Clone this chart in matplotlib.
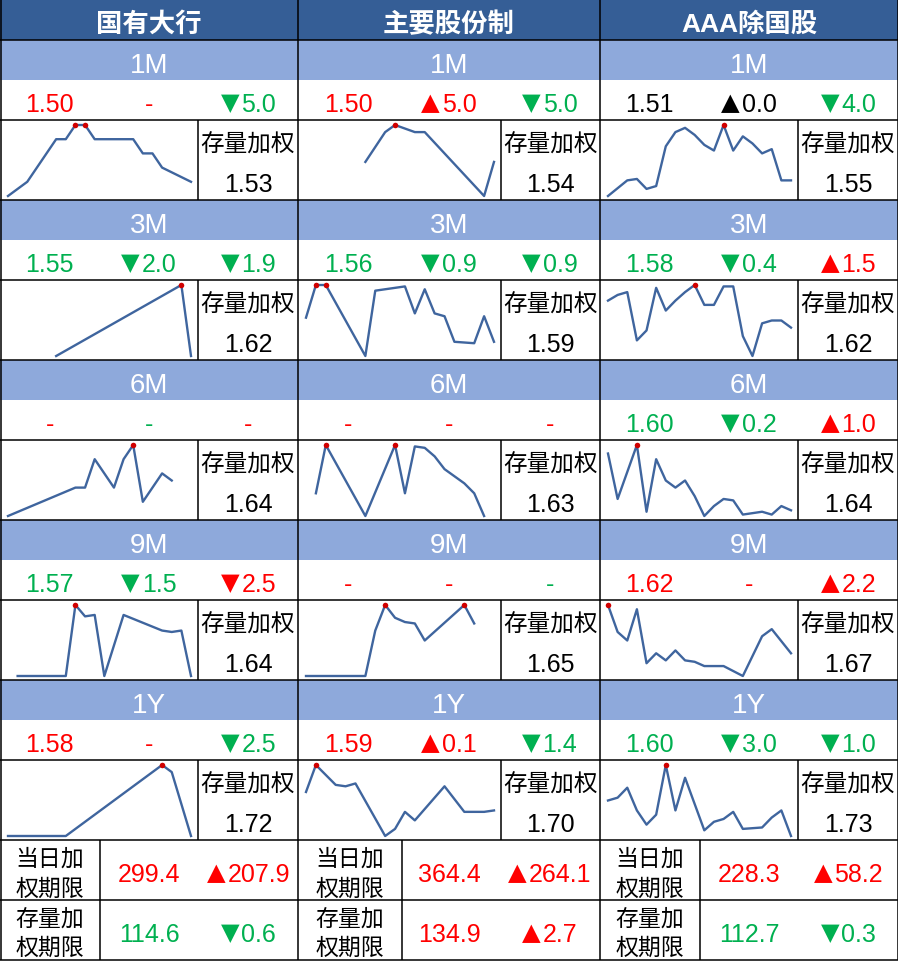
import matplotlib
matplotlib.use("Agg")
import matplotlib.pyplot as plt
from matplotlib.patches import Rectangle

plt.rcParams["font.family"] = ["Liberation Sans", "Noto Sans CJK SC", "DejaVu Sans"]

W, H = 898, 961

R = "#FF0000"
G = "#00B050"
K = "#000000"

GROUPS = ["国有大行", "主要股份制", "AAA除国股"]
TENORS = ["1M", "3M", "6M", "9M", "1Y"]

# latest rate, change vs previous day, change vs last week (3 per group)
quote_1m = ["1.50", "-", "▼5.0", "1.50", "▲5.0", "▼5.0", "1.51", "▲0.0", "▼4.0"]
quote_3m = ["1.55", "▼2.0", "▼1.9", "1.56", "▼0.9", "▼0.9", "1.58", "▼0.4", "▲1.5"]
quote_6m = ["-", "-", "-", "-", "-", "-", "1.60", "▼0.2", "▲1.0"]
quote_9m = ["1.57", "▼1.5", "▼2.5", "-", "-", "-", "1.62", "-", "▲2.2"]
quote_1y = ["1.58", "-", "▼2.5", "1.59", "▲0.1", "▼1.4", "1.60", "▼3.0", "▼1.0"]

color_1m = [R, R, G, R, R, G, K, K, G]
color_3m = [G, G, G, G, G, G, G, G, R]
color_6m = [R, G, R, R, R, R, G, G, R]
color_9m = [G, G, R, R, R, G, R, R, R]
color_1y = [R, R, G, R, R, G, G, G, G]

stock_1m = [1.53, 1.54, 1.55]
stock_3m = [1.62, 1.59, 1.62]
stock_6m = [1.64, 1.63, 1.64]
stock_9m = [1.64, 1.65, 1.67]
stock_1y = [1.72, 1.70, 1.73]

# recent issuance rates, one slot per day (None = no issue)
N = None
spark_1m = [
    [1.480, N, 1.490, N, N, 1.520, 1.520, 1.530, 1.530, 1.520, N, N, N, 1.520, 1.510, 1.510, 1.500, N, N, 1.490],
    [N, N, N, N, N, N, 1.504, N, 1.525, 1.530, N, 1.525, 1.525, N, N, N, N, N, 1.480, 1.504],
    [1.500, N, 1.511, 1.512, 1.505, 1.507, 1.535, 1.545, 1.548, 1.543, 1.536, 1.532, 1.550, 1.532, 1.542, 1.537, 1.530, 1.533, 1.511, 1.511],
]
spark_3m = [
    [N, N, N, N, N, 1.550, N, N, N, N, N, N, N, N, N, N, N, N, 1.600, 1.550],
    [1.577, 1.600, 1.600, N, N, N, 1.550, 1.596, N, N, 1.599, 1.580, 1.597, 1.580, 1.578, 1.560, N, 1.559, 1.578, 1.560],
    [1.599, 1.603, 1.605, 1.571, 1.578, 1.608, 1.592, 1.599, 1.605, 1.610, 1.596, 1.596, 1.609, 1.609, 1.574, 1.560, 1.583, 1.585, 1.585, 1.580],
]
spark_6m = [
    [1.580, N, N, N, N, N, N, 1.600, 1.600, 1.620, N, 1.600, 1.620, 1.630, 1.590, N, 1.610, 1.605, N, N],
    [N, 1.596, 1.630, N, N, N, 1.580, N, N, 1.630, 1.596, 1.629, 1.628, 1.622, 1.613, 1.608, 1.603, 1.596, 1.580, N],
    [1.644, 1.612, 1.631, 1.650, 1.603, 1.640, 1.625, 1.620, 1.625, 1.614, 1.600, 1.607, 1.612, 1.611, 1.601, 1.602, 1.603, 1.601, 1.607, 1.604],
]
spark_9m = [
    [N, 1.580, N, N, N, N, 1.580, 1.630, 1.622, 1.623, 1.580, N, 1.623, N, N, N, 1.612, 1.611, 1.612, 1.580],
    [1.600, N, N, N, N, N, 1.600, 1.632, 1.650, 1.641, 1.638, 1.637, 1.625, N, N, N, 1.650, 1.637, N, N],
    [1.650, 1.631, 1.625, 1.647, 1.609, 1.616, 1.611, 1.618, 1.611, 1.610, 1.607, 1.607, 1.607, N, 1.600, N, 1.628, 1.633, N, 1.616],
]
spark_1y = [
    [1.620, N, N, N, N, N, 1.620, N, N, N, N, N, N, N, N, N, 1.670, 1.665, N, 1.620],
    [1.651, 1.670, 1.663, 1.656, 1.655, 1.657, N, N, 1.620, 1.625, 1.637, 1.631, N, N, 1.655, N, 1.637, N, 1.637, 1.638],
    [1.675, 1.677, 1.684, 1.668, 1.658, 1.665, 1.700, 1.668, 1.691, N, 1.654, 1.660, 1.662, 1.667, 1.655, N, 1.656, 1.663, 1.668, 1.650],
]

daily_term = ["299.4", "364.4", "228.3"]
daily_chg = ["▲207.9", "▲264.1", "▲58.2"]
daily_color = [R, R, R]
stock_term = ["114.6", "134.9", "112.7"]
stock_chg = ["▼0.6", "▲2.7", "▼0.3"]
stock_color = [G, R, G]

quotes = [quote_1m, quote_3m, quote_6m, quote_9m, quote_1y]
colors = [color_1m, color_3m, color_6m, color_9m, color_1y]
stocks = [stock_1m, stock_3m, stock_6m, stock_9m, stock_1y]
sparks = [spark_1m, spark_3m, spark_6m, spark_9m, spark_1y]

# layout (pixels)
col_left = [0, 298, 600]
col_right = [298, 600, 898]
spark_split = [198, 501, 798]
label_split = [100, 402, 700]

HEAD_BG = "#355E96"
BAND_BG = "#8EA9DB"
LINE_C = "#3F659E"
DOT_C = "#D00000"

fig = plt.figure(figsize=(W / 100, H / 100), dpi=100)
ax = fig.add_axes([0, 0, 1, 1])
ax.set_xlim(0, W)
ax.set_ylim(H, 0)
ax.axis("off")
renderer = fig.canvas.get_renderer()


def hline(y, x0=0, x1=W):
    ax.plot([x0, x1], [y, y], color="black", lw=1.1, solid_capstyle="butt", zorder=5)


def vline(x, y0, y1):
    ax.plot([x, x], [y0, y1], color="black", lw=1.1, solid_capstyle="butt", zorder=5)


def value_text(x, y_base, s, color):
    # arrows drawn in DejaVu so they come out as big as in the source table
    if s[0] in "▲▼":
        t1 = ax.text(0, y_base - 2, s[0], family=["DejaVu Sans"], fontsize=17.5,
                     color=color, ha="left", va="baseline")
        t2 = ax.text(0, y_base, s[1:], fontsize=18, color=color, ha="left", va="baseline")
        w1 = t1.get_window_extent(renderer).width + 2
        w2 = t2.get_window_extent(renderer).width
        x0 = x - (w1 + w2) / 2
        t1.set_x(x0)
        t2.set_x(x0 + w1)
    else:
        ax.text(x, y_base, s, fontsize=18, color=color, ha="center", va="baseline")


def spark(x0, x1, y0, y1, vals):
    sa = fig.add_axes([x0 / W, 1 - y1 / H, (x1 - x0) / W, (y1 - y0) / H])
    idx = [i for i, v in enumerate(vals) if v is not None]
    ys = [vals[i] for i in idx]
    step = (x1 - x0 - 15) / 19
    sa.set_xlim(-8 / step, 19 + 7 / step)
    lo, hi = min(ys), max(ys)
    span = hi - lo
    sa.set_ylim(lo - 4 * span / 71, hi + 5 * span / 71)
    sa.plot(idx, ys, color=LINE_C, lw=1.7)
    top = [i for i in idx if vals[i] >= hi - 1e-9]
    sa.plot(top, [hi] * len(top), "o", color=DOT_C, ms=4, mec="none")
    sa.axis("off")


# header
ax.add_patch(Rectangle((0, 0), W, 40, color=HEAD_BG, lw=0))
for c, name in enumerate(GROUPS):
    ax.text((col_left[c] + col_right[c]) / 2, 24, name, color="white", fontsize=19,
            fontweight="bold", ha="center", va="center")
hline(40)

for k, tenor in enumerate(TENORS):
    top = 40 + 160 * k
    ax.add_patch(Rectangle((0, top), W, 40, color=BAND_BG, lw=0))
    for c in range(3):
        L, Rr = col_left[c], col_right[c]
        ax.text((L + Rr) / 2, top + 33, tenor, color="white", fontsize=20,
                ha="center", va="baseline")
        for j in range(3):
            value_text(L + (Rr - L) * (2 * j + 1) / 6, top + 72, quotes[k][3 * c + j],
                       colors[k][3 * c + j])
        box_c = (spark_split[c] + Rr) / 2
        ax.text(box_c, top + 105, "存量加权", fontsize=17, ha="center", va="center")
        ax.text(box_c, top + 152, f"{stocks[k][c]:.2f}", fontsize=18, ha="center",
                va="baseline")
        vline(spark_split[c], top + 80, top + 160)
        spark(L, spark_split[c], top + 80, top + 160, sparks[k][c])
    hline(top + 80)
    hline(top + 160)

# bottom rows: weighted term
for c in range(3):
    L, Rr = col_left[c], col_right[c]
    lab = (L + label_split[c]) / 2
    ax.text(lab, 859, "当日加", fontsize=16.5, ha="center", va="center")
    ax.text(lab, 889, "权期限", fontsize=16.5, ha="center", va="center")
    ax.text(lab, 919, "存量加", fontsize=16.5, ha="center", va="center")
    ax.text(lab, 948, "权期限", fontsize=16.5, ha="center", va="center")
    value_text(L + (Rr - L) / 2, 882, daily_term[c], daily_color[c])
    value_text(L + (Rr - L) * 5 / 6, 882, daily_chg[c], daily_color[c])
    value_text(L + (Rr - L) / 2, 942, stock_term[c], stock_color[c])
    value_text(L + (Rr - L) * 5 / 6, 942, stock_chg[c], stock_color[c])
    vline(label_split[c], 840, 960)
hline(900)
hline(960)

for x in [0.5, 298, 600, 897.5]:
    vline(x, 0, 960)

fig.savefig("out.png", dpi=100)
